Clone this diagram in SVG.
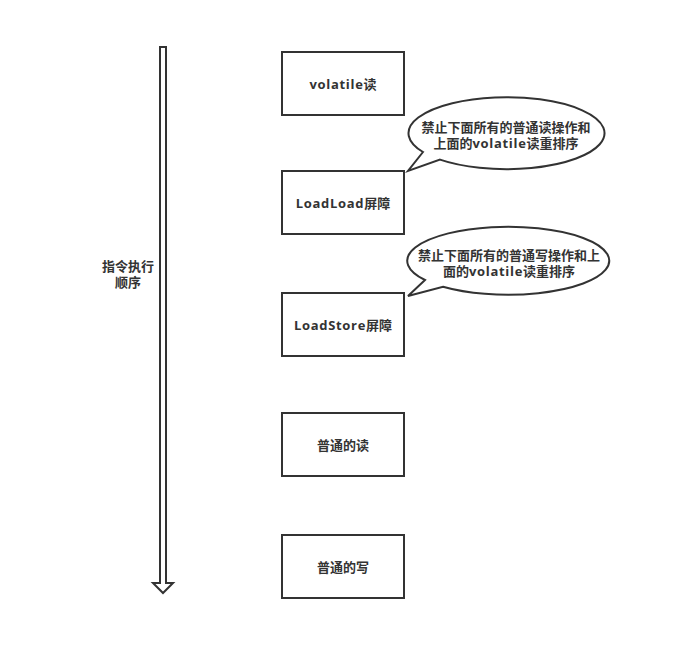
<svg xmlns="http://www.w3.org/2000/svg" width="673" height="660" viewBox="0 0 673 660">
<style>
.box{fill:#fff;stroke:#333;stroke-width:2}
.call{fill:#fff;stroke:#333;stroke-width:2}
.t{font-family:"Open Sans","Noto Sans CJK SC",sans-serif;font-size:13px;font-weight:bold;fill:#333;text-anchor:middle}
.l{letter-spacing:0.7px}
</style>
<rect width="673" height="660" fill="#fff"/>
<g id="connectors">
<path d="M160 47 L166 47 L166 583 L173 583 L163 593 L153 583 L160 583 Z" fill="#fff" stroke="#333" stroke-width="2" stroke-linejoin="miter"/>
</g>
<g id="order-label"><text class="t" x="128" y="271">指令执行</text><text class="t" x="128" y="287">顺序</text></g>
<g id="n1"><rect class="box" x="282" y="52" width="122" height="63"/><text class="t" x="343" y="89"><tspan class="l">volatile</tspan>读</text></g>
<g id="n2"><rect class="box" x="282" y="171" width="122" height="63"/><text class="t" x="343" y="208"><tspan class="l">LoadLoad</tspan>屏障</text></g>
<g id="n3"><rect class="box" x="282" y="293" width="122" height="63"/><text class="t" x="343" y="330"><tspan class="l">LoadStore</tspan>屏障</text></g>
<g id="n4"><rect class="box" x="282" y="413" width="122" height="63"/><text class="t" x="343" y="450">普通的读</text></g>
<g id="n5"><rect class="box" x="282" y="535" width="122" height="63"/><text class="t" x="343" y="572">普通的写</text></g>
<g id="c1"><path class="call" d="M423 152 L408 171 L440 159.6 A98 36 0 1 0 423 152 Z"/><text class="t" x="506" y="132">禁止下面所有的普通读操作和</text><text class="t" x="506" y="148">上面的<tspan class="l">volatile</tspan>读重排序</text></g>
<g id="c2"><path class="call" d="M425 280 L408 296 L443 286.7 A101 34 0 1 0 425 280 Z"/><text class="t" x="509" y="260">禁止下面所有的普通写操作和上</text><text class="t" x="509" y="276">面的<tspan class="l">volatile</tspan>读重排序</text></g>
</svg>
